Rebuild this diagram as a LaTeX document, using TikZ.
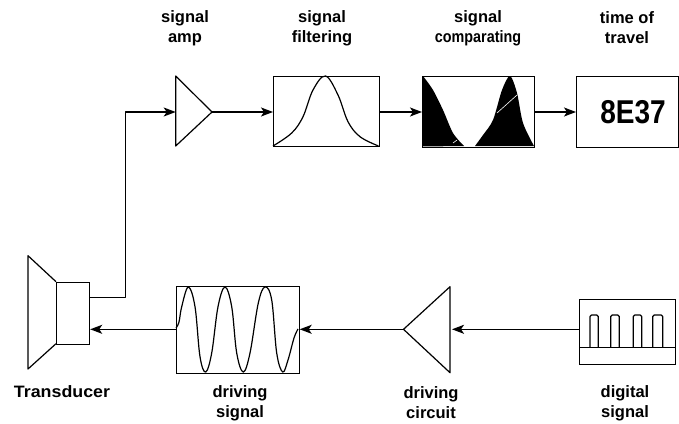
\documentclass[tikz,border=0pt]{standalone}
\usepackage{fontspec}
\setmainfont{Liberation Sans}
\usetikzlibrary{arrows.meta}
\tikzset{
  ln/.style={line width=1.2pt,black,line join=round},
  box/.style={draw,line width=1.2pt,rectangle,inner sep=0pt,anchor=north west},
  lab/.style={font=\bfseries\fontsize{16.5}{20}\selectfont,align=center,inner sep=0pt,text=black},
  conn/.style={line width=1.4pt,black,-{Stealth[length=12pt,width=9pt,inset=3pt]},line join=round},
  wave/.style={line width=1.2pt,black,smooth,tension=0.6}
}
\begin{document}
\begin{tikzpicture}[x=1pt,y=-1pt]
\useasboundingbox (0,0) rectangle (679,423);
% boxes
\node[box,minimum width=106pt,minimum height=70pt] (filter) at (273,76) {};
\node[box,minimum width=112pt,minimum height=70.5pt] (compare) at (422,76) {};
\node[box,minimum width=102pt,minimum height=70.5pt] (display) at (576,76) {};
\node[box,minimum width=122.5pt,minimum height=86.5pt] (drive) at (176,286) {};
\node[box,minimum width=96pt,minimum height=65pt] (digital) at (579,298.5) {};
\node[box,minimum width=33pt,minimum height=62pt] (tbox) at (56,281.7) {};
% triangles
\coordinate (ampin) at (175.7,112);
\coordinate (ampout) at (212,112);
\draw[ln] (175.7,76) -- (ampout) -- (175.7,146) -- cycle;
\coordinate (drvtip) at (403.5,329.3);
\coordinate (drvin) at (452,329.3);
\draw[ln] (450,286.7) -- (drvtip) -- (450,372.7) -- cycle;
% cone
\draw[ln] (56,281.7) -- (28,255.7) -- (28,369) -- (56,343.7);
% curves
\draw[wave] plot coordinates {(273,146) (291.7,133) (303,116.7) (313,90) (325.5,76) (338,95) (348,121.7) (360,136.7) (378.5,146)};
\fill[black] plot[smooth,tension=0.5] coordinates {(423,76) (433,90) (443,110) (453,133) (464,146)} -- (422,146.5) -- cycle;
\fill[black] plot[smooth,tension=0.5] coordinates {(475,146) (483,135) (493,120) (502,90) (510,76) (517,93) (523,123) (534,146)} -- cycle;
\draw[white,line width=.6pt] (497,113) -- (517,95);
\draw[white,line width=.6pt] (453,143) -- (457,140);
\draw[wave] plot coordinates {(176,328) (179,322) (181.7,306.7) (188.3,287) (195,306.7) (200,356.7) (205.7,372) (211.7,353) (218,306.7) (225,287) (231.7,306.7) (236.7,353) (243.3,372) (250,353) (258.3,303) (265,287) (271.7,300) (276.7,353) (282.7,372) (288,360) (294,338) (298,329)};
% digital signal
\coordinate (diga) at (579,347.7);
\coordinate (digb) at (675,347.7);
\draw[ln] (diga) -- (digb);
\draw[ln,rounded corners=1.5pt]
  (590,347.7) -- (590,315) -- (598.3,315) -- (598.3,347.7)
  (610.7,347.7) -- (610.7,315) -- (619.3,315) -- (619.3,347.7)
  (633.3,347.7) -- (633.3,315) -- (641.7,315) -- (641.7,347.7)
  (652.7,347.7) -- (652.7,315) -- (662.7,315) -- (662.7,347.7);
% connectors
\coordinate (tout) at (89,297.7);
\coordinate (bend1) at (125.5,297.7);
\coordinate (bend2) at (125.5,112);
\draw[conn] (tout) -- (bend1) -- (bend2) -- (ampin);
\draw[conn] (ampout) -- (filter.west |- ampout);
\draw[conn] (filter.east |- ampout) -- (compare.west |- ampout);
\draw[conn] (compare.east |- ampout) -- (display.west |- ampout);
\draw[conn] (digital.west |- drvin) -- (drvin);
\draw[conn] (drvtip) -- (drive.east |- drvtip);
\draw[conn] (drive.west |- drvtip) -- (tbox.east |- drvtip);
% labels
\node[lab] (l1) at (185,28) {signal\\amp};
\node[lab] (l2) at (322,28) {signal\\filtering};
\node[lab] (l3) at (478,28) {signal\\{\addfontfeature{FakeStretch=0.87}comparating}};
\node[lab] (l4) at (627,28) {time of\\travel};
\node[lab] (l5) at (62,392) {\addfontfeature{FakeStretch=1.08}Transducer};
\node[lab] (l6) at (240,403) {driving\\signal};
\node[lab] (l7) at (431,403) {driving\\circuit};
\node[lab] (l8) at (625,403) {digital\\signal};
\node[inner sep=0pt,font=\bfseries\fontsize{33}{36}\selectfont,xscale=.85] (val) at (633,112) {8E37};
\end{tikzpicture}
\end{document}
